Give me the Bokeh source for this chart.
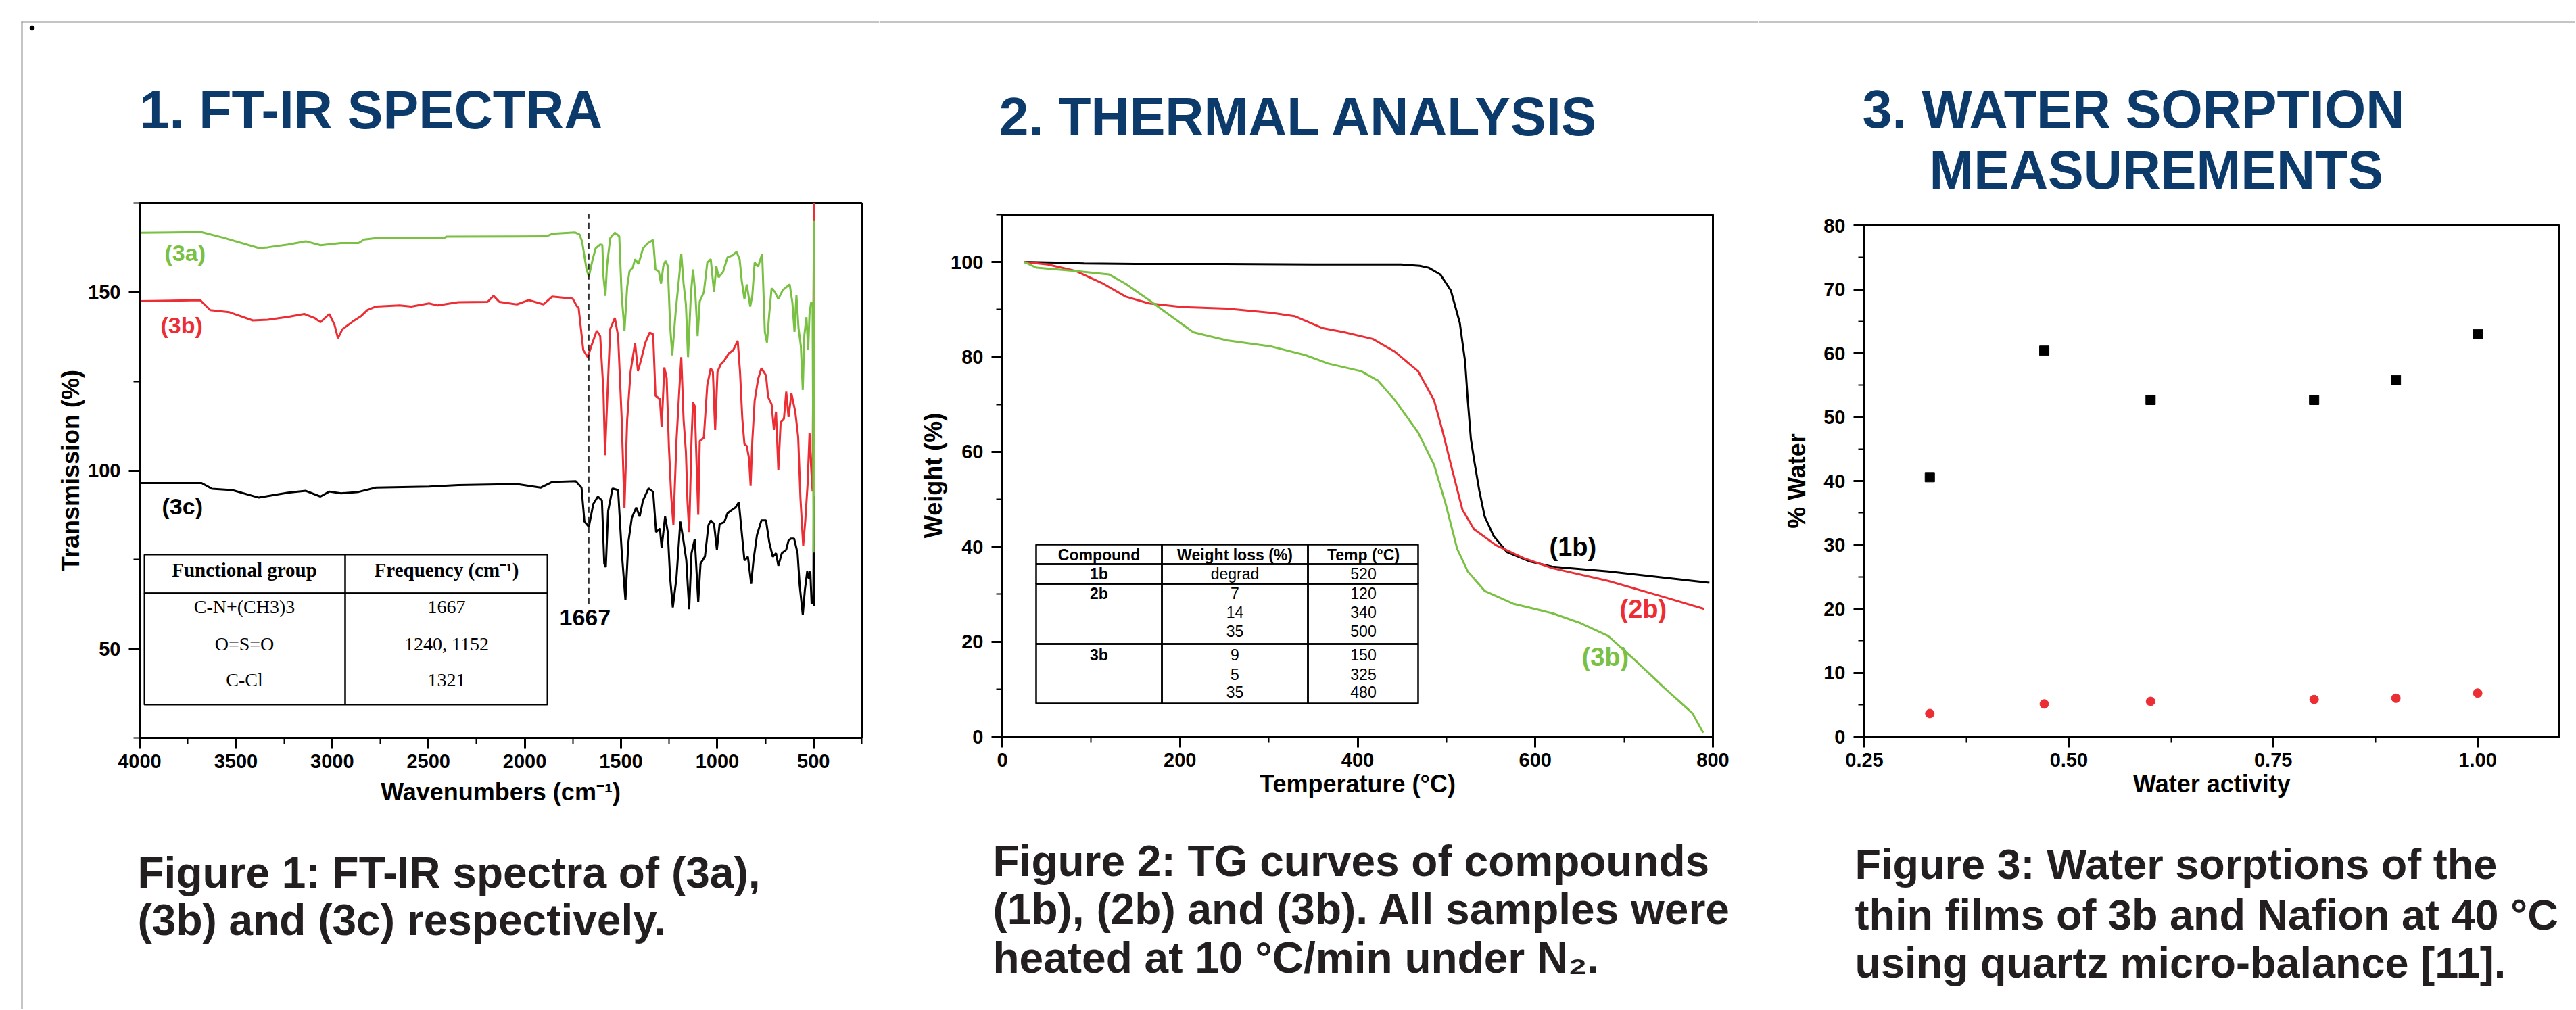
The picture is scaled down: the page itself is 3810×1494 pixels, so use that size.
from bokeh.plotting import figure
from bokeh.models import (Range1d, SingleIntervalTicker, NumeralTickFormatter,
                          Label, BoxAnnotation)
from bokeh.layouts import row, column
from bokeh.embed import file_html
from bokeh.resources import INLINE

SANS = "Liberation Sans"
SERIF = "Liberation Serif"
NAVY = "#0b3a6b"
CAPTION = "#231f20"
GREEN = "#79c043"
RED = "#ec2d33"
GRAY = "#8c8c8c"

# ---------------- data: FT-IR spectra (wavenumber, transmission) ----------------
ir_3a = [(4000,166.7),(3680,166.9),(3565,165.3),(3380,162.4),(3335,162.6),(3230,163.4),(3137,164.3),
         (3060,163.2),(2955,163.8),(2863,163.8),(2833,164.8),(2772,165.2),(2420,165.2),(2406,165.6),
         (1888,165.7),(1857,166.4),(1740,166.8),(1715,166.2),(1702,164.2),(1679,156.4),(1667,154.4),
         (1649,158.8),(1632,162.3),(1608,163.4),(1597,163.3),(1591,154.4),(1581,149.0),(1573,157.4),
         (1556,165.2),(1532,166.7),(1509,165.7),(1497,149.5),(1482,139.2),(1468,151.5),(1456,155.9),
         (1439,156.9),(1427,159.3),(1409,157.9),(1386,162.3),(1362,163.7),(1333,164.7),(1321,156.4),
         (1304,155.9),(1292,152.4),(1280,157.4),(1269,158.8),(1257,157.4),(1245,140.7),(1234,132.3),
         (1216,144.6),(1198,154.4),(1187,160.8),(1175,152.4),(1163,146.6),(1152,131.8),(1137,149.5),
         (1126,156.4),(1114,149.5),(1102,137.7),(1091,147.5),(1070,150.0),(1052,158.3),(1034,159.3),
         (1017,150.1),(1005,157.3),(993,154.2),(970,155.7),(947,159.8),(923,160.3),(900,161.3),
         (884,159.3),(873,153.2),(859,148.1),(847,152.2),(829,146.0),(818,149.1),(806,158.3),
         (788,157.2),(767,160.8),(753,138.9),(742,135.9),(730,144.0),(718,151.1),(701,150.1),
         (683,148.1),(660,150.6),(624,152.2),(610,147.1),(599,138.9),(589,149.1),(578,139.9),
         (566,134.9),(556,122.6),(548,137.9),(537,143.0),(528,133.8),(521,144.0),(513,147.1),
         (505,147.1),(500,77.0),(498,170.0)]

ir_3b = [(4000,147.5),(3686,147.8),(3633,145.0),(3534,144.4),(3412,142.1),(3335,142.3),(3229,143.1),
         (3145,143.9),(3092,142.8),(3061,141.6),(3015,143.9),(2988,140.9),(2970,137.1),(2947,139.6),
         (2893,141.8),(2848,143.4),(2817,145.0),(2772,146.0),(2650,146.3),(2589,146.0),(2497,146.9),
         (2452,146.3),(2345,147.2),(2193,147.3),(2162,149.0),(2132,147.3),(2040,146.6),(1979,147.8),
         (1903,146.6),(1857,148.8),(1751,148.2),(1728,146.0),(1720,145.6),(1696,133.8),(1673,131.8),
         (1655,134.8),(1626,139.2),(1608,137.7),(1591,122.0),(1583,104.3),(1573,118.1),(1556,139.7),
         (1532,142.8),(1515,137.7),(1497,115.1),(1482,89.6),(1468,114.2),(1450,127.9),(1427,135.8),
         (1412,127.9),(1397,130.8),(1374,135.8),(1351,138.7),(1333,138.2),(1321,121.0),(1298,120.0),
         (1289,112.2),(1275,128.9),(1263,125.9),(1251,106.3),(1239,92.5),(1228,84.7),(1212,108.3),
         (1198,122.0),(1187,131.8),(1175,114.2),(1163,105.3),(1155,91.6),(1146,82.7),(1134,108.3),
         (1126,119.1),(1117,118.1),(1099,87.6),(1091,108.3),(1070,109.2),(1052,124.0),(1034,128.7),
         (1023,127.7),(1011,111.4),(999,127.7),(982,129.8),(964,130.8),(941,132.8),(917,133.8),
         (894,136.4),(882,127.7),(870,114.5),(859,107.4),(847,106.9),(835,103.3),(827,95.7),
         (818,108.4),(806,119.6),(788,125.7),(771,128.7),(747,126.7),(736,120.6),(718,118.6),
         (706,111.4),(695,116.5),(683,100.2),(671,113.5),(654,114.5),(642,122.1),(630,115.0),
         (615,121.6),(595,116.5),(580,109.4),(568,92.1),(554,78.9),(543,86.0),(531,96.2),
         (521,110.4),(513,101.3),(505,94.1),(498,175.0)]

ir_3c = [(4000,96.5),(3678,96.5),(3625,94.9),(3518,94.5),(3381,92.4),(3229,93.8),(3137,94.3),
         (3061,92.7),(3015,94.1),(2954,93.6),(2863,94.0),(2772,95.2),(2497,95.5),(2345,95.9),
         (2040,96.2),(1918,95.2),(1857,96.8),(1735,97.0),(1705,95.2),(1690,85.7),(1667,84.2),
         (1644,90.6),(1620,92.7),(1599,91.6),(1587,73.9),(1579,72.9),(1567,88.6),(1544,95.0),
         (1515,94.5),(1497,77.8),(1477,63.6),(1462,79.8),(1444,86.7),(1421,89.6),(1403,87.1),
         (1386,91.6),(1357,95.0),(1333,94.0),(1318,82.7),(1298,83.7),(1289,78.3),(1271,87.1),
         (1257,82.7),(1245,69.9),(1231,61.6),(1212,69.9),(1192,85.7),(1177,80.8),(1161,74.9),
         (1146,61.1),(1134,76.8),(1117,80.8),(1099,63.1),(1087,73.9),(1064,75.9),(1046,84.7),
         (1034,86.0),(1017,85.0),(1002,77.8),(988,85.0),(964,85.5),(947,88.0),(923,89.0),
         (906,89.6),(888,91.1),(870,80.9),(859,74.8),(841,75.8),(824,68.2),(812,74.8),(794,81.9),
         (771,86.0),(747,86.0),(730,79.9),(712,75.8),(695,76.8),(683,73.3),(665,76.8),(642,77.8),
         (630,80.4),(618,80.9),(601,80.9),(583,76.8),(572,67.7),(556,59.5),(545,66.6),(533,71.7),
         (525,69.7),(517,71.7),(510,62.6),(501,64.6),(499,93.0),(498,62.0)]

peak_wn = 1667
fg_header = ["Functional group", "Frequency (cm\u207b\u00b9)"]
fg_groups = ["C-N+(CH3)3", "O=S=O", "C-Cl"]
fg_freqs = ["1667", "1240, 1152", "1321"]

# ---------------- data: TG curves (temperature, weight %) ----------------
t_1b = [25, 60, 92, 150, 250, 350, 449, 470, 480, 493, 505, 515, 521, 524, 527.5, 532, 537, 543,
        553, 568, 594, 619, 682, 745, 796]
w_1b = [100, 99.9, 99.7, 99.6, 99.6, 99.5, 99.5, 99.2, 98.8, 97.4, 94.0, 87.2, 79.0, 70.9, 62.7,
        57.3, 51.8, 46.4, 42.3, 38.9, 36.9, 35.8, 34.8, 33.5, 32.4]
t_2b = [25, 51, 83, 114, 139, 165, 203, 253, 303, 329, 360, 385, 417, 442, 468, 486, 496, 505, 518,
        531, 556, 587, 619, 682, 745, 790]
w_2b = [100, 99.5, 98.1, 95.4, 92.7, 91.3, 90.5, 90.2, 89.3, 88.6, 86.1, 85.2, 83.8, 81.1, 77.0,
        70.9, 64.1, 57.3, 47.8, 43.7, 40.3, 37.6, 35.5, 32.8, 29.4, 26.9]
t_3b = [25, 38.5, 83, 120, 139, 165, 190, 215, 253, 303, 341, 367, 404, 423, 442, 468, 486, 499,
        512, 524, 543, 575, 619, 651, 682, 714, 745, 777, 789]
w_3b = [100, 98.8, 98.1, 97.4, 95.4, 92.0, 88.6, 85.2, 83.5, 82.2, 80.4, 78.6, 77.0, 75.0, 70.9,
        64.1, 57.3, 49.1, 39.6, 34.8, 30.7, 28.0, 26.0, 23.9, 21.2, 15.8, 10.3, 4.9, 0.8]

tg_header = ["Compound", "Weight loss (%)", "Temp (\u00b0C)"]
tg_compounds = ["1b", "2b", "3b"]
tg_loss = [["degrad"], ["7", "14", "35"], ["9", "5", "35"]]
tg_temp = [["520"], ["120", "340", "500"], ["150", "325", "480"]]

# ---------------- data: water sorption ----------------
water_activity = [0.33, 0.47, 0.60, 0.80, 0.90, 1.00]
water_black = [40.6, 60.4, 52.7, 52.7, 55.8, 63.0]
water_red = [3.6, 5.1, 5.5, 5.8, 6.0, 6.8]

# page geometry (page pixel coordinates; the Bokeh page has no body margin)
TOP_Y0 = 0
TOP_SPLIT = [290, 290, 310]    # title band bottom, per column
MID_Y1 = 1220                  # chart band ends here
BOT_Y1 = 1492                  # caption band ends here
COLS = [(60, 1300), (1300, 2600), (2600, 3808)]


# ---------------- helpers ----------------
def no_align(p):
    try:
        p.frame_align = False
    except Exception:
        pass
    return p


def text_fig(x0, x1, y0, y1):
    """A figure whose data coordinates are page pixel coordinates (y downward)."""
    p = figure(width=x1 - x0, height=y1 - y0, x_range=Range1d(x0, x1), y_range=Range1d(y1, y0),
               x_axis_location=None, y_axis_location=None, min_border=0,
               toolbar_location=None, output_backend="svg",
               background_fill_color="white", border_fill_color="white")
    p.outline_line_color = None
    p.xgrid.visible = False
    p.ygrid.visible = False
    return no_align(p)


def label(p, X, Y_base, text, size, color="black", style="bold", font=SANS, align="left"):
    # Y_base is the text baseline; the label is anchored at its vertical middle
    p.add_layout(Label(x=X, y=Y_base - 0.35 * size, text=text, text_font=font,
                       text_font_size=f"{size}px", text_font_style=style, text_color=color,
                       text_align=align, text_baseline="middle"))


def gbox(p, X0, Y0, X1, Y1, fill=GRAY):
    p.add_layout(BoxAnnotation(left=X0, right=X1, top=Y0, bottom=Y1, fill_color=fill,
                               fill_alpha=1.0, line_alpha=0.0, line_width=0))


def chart_fig(col, top, FL, FT, FR, FB, xr, yr):
    x0, x1 = col
    p = figure(width=x1 - x0, height=MID_Y1 - top,
               min_border_left=FL - x0, min_border_right=x1 - FR,
               min_border_top=FT - top, min_border_bottom=MID_Y1 - FB,
               x_range=xr, y_range=yr, output_backend="svg", toolbar_location=None,
               background_fill_color="white", border_fill_color="white")
    p.xgrid.visible = False
    p.ygrid.visible = False
    p.outline_line_color = "black"
    p.outline_line_width = 3
    for ax in (p.xaxis[0], p.yaxis[0]):
        ax.axis_line_width = 3
        ax.major_tick_line_width = 3
        ax.minor_tick_line_width = 2
        ax.major_tick_out = 16
        ax.major_tick_in = 0
        ax.minor_tick_out = 9
        ax.minor_tick_in = 0
        ax.major_label_text_font = SANS
        ax.major_label_text_font_style = "bold"
        ax.major_label_text_font_size = "29px"
        ax.major_label_text_color = "black"
        ax.axis_label_text_font = SANS
        ax.axis_label_text_font_style = "bold"
        ax.axis_label_text_font_size = "36px"
        ax.axis_label_text_color = "black"
    p.yaxis[0].major_label_standoff = 12
    p.xaxis[0].major_label_standoff = 8
    p.yaxis[0].axis_label_standoff = 2
    return no_align(p)


def in_label(p, FL, FB, X, Y, text, size, color="black", style="bold", font=SANS,
             align="left", baseline="middle"):
    p.add_layout(Label(x=X - FL, y=FB - Y, x_units="screen", y_units="screen", text=text,
                       text_font=font, text_font_size=f"{size}px", text_font_style=style,
                       text_color=color, text_align=align, text_baseline=baseline))


def in_box(p, FL, FB, X0, Y0, X1, Y1, lw=2, fill=None):
    p.add_layout(BoxAnnotation(left=X0 - FL, right=X1 - FL, top=FB - Y0, bottom=FB - Y1,
                               left_units="screen", right_units="screen",
                               top_units="screen", bottom_units="screen",
                               fill_color=fill, fill_alpha=1.0 if fill else 0.0,
                               line_color="black", line_width=lw,
                               line_alpha=0.0 if fill else 1.0))


# ================= left strip (poster frame) =================
strip = text_fig(0, 60, 0, BOT_Y1)
gbox(strip, 31, 31, 60, 33)
gbox(strip, 31, 31, 33, BOT_Y1)
strip.scatter([47], [41], size=7, color="black")

# ================= Panel 1: FT-IR =================
t1 = text_fig(COLS[0][0], COLS[0][1], TOP_Y0, TOP_SPLIT[0])
gbox(t1, COLS[0][0], 31, COLS[0][1], 33)
label(t1, 206, 190, "1. FT-IR SPECTRA", 79, color=NAVY)

FL1, FT1, FR1, FB1 = 206, 300, 1274, 1091
c1 = chart_fig(COLS[0], TOP_SPLIT[0], FL1, FT1, FR1, FB1, Range1d(4000, 250), Range1d(25, 175))
c1.xaxis[0].ticker = SingleIntervalTicker(interval=500, num_minor_ticks=2)
c1.yaxis[0].ticker = SingleIntervalTicker(interval=50, num_minor_ticks=2)
c1.xaxis[0].axis_label = "Wavenumbers (cm\u207b\u00b9)"
c1.yaxis[0].axis_label = "Transmission (%)"
c1.xaxis[0].axis_label_standoff = 12
for series, col in ((ir_3c, "black"), (ir_3b, RED), (ir_3a, GREEN)):
    c1.line([a for a, b in series], [b for a, b in series], line_color=col, line_width=3)
c1.segment(x0=[peak_wn], y0=[62.5], x1=[peak_wn], y1=[172], line_color="black",
           line_width=1.5, line_dash="9 6")
in_label(c1, FL1, FB1, 243, 373, "(3a)", 34, color=GREEN)
in_label(c1, FL1, FB1, 237, 480, "(3b)", 34, color=RED)
in_label(c1, FL1, FB1, 239, 748, "(3c)", 34, color="black")
in_label(c1, FL1, FB1, 827, 913, "1667", 34)
in_box(c1, FL1, FB1, 213, 820, 510, 877)
in_box(c1, FL1, FB1, 510, 820, 809, 877)
in_box(c1, FL1, FB1, 213, 877, 510, 1042)
in_box(c1, FL1, FB1, 510, 877, 809, 1042)
in_box(c1, FL1, FB1, 213, 876, 809, 878.5, fill="black")
in_label(c1, FL1, FB1, 361, 842, fg_header[0], 29, font=SERIF, align="center")
in_label(c1, FL1, FB1, 660, 842, fg_header[1], 29, font=SERIF, align="center")
for i, yy in enumerate([897, 952, 1005]):
    in_label(c1, FL1, FB1, 361, yy, fg_groups[i], 28, font=SERIF, style="normal", align="center")
    in_label(c1, FL1, FB1, 660, yy, fg_freqs[i], 28, font=SERIF, style="normal", align="center")

b1 = text_fig(COLS[0][0], COLS[0][1], MID_Y1, BOT_Y1)
label(b1, 203, 1313, "Figure 1: FT-IR spectra of (3a),", 64, color=CAPTION)
label(b1, 203, 1383, "(3b) and (3c) respectively.", 64, color=CAPTION)

# ================= Panel 2: TG =================
t2 = text_fig(COLS[1][0], COLS[1][1], TOP_Y0, TOP_SPLIT[1])
gbox(t2, COLS[1][0], 31, COLS[1][1], 33)
label(t2, 1477, 200, "2. THERMAL ANALYSIS", 79, color=NAVY)

FL2, FT2, FR2, FB2 = 1482, 317, 2533, 1089
c2 = chart_fig(COLS[1], TOP_SPLIT[1], FL2, FT2, FR2, FB2, Range1d(0, 800), Range1d(0, 110))
c2.xaxis[0].ticker = SingleIntervalTicker(interval=200, num_minor_ticks=2)
c2.yaxis[0].ticker = SingleIntervalTicker(interval=20, num_minor_ticks=2)
c2.xaxis[0].axis_label = "Temperature (\u00b0C)"
c2.yaxis[0].axis_label = "Weight (%)"
c2.xaxis[0].axis_label_standoff = 2
c2.line(t_1b, w_1b, line_color="black", line_width=3)
c2.line(t_2b, w_2b, line_color=RED, line_width=3)
c2.line(t_3b, w_3b, line_color=GREEN, line_width=3)
in_label(c2, FL2, FB2, 2291, 808, "(1b)", 38, color="black")
in_label(c2, FL2, FB2, 2395, 900, "(2b)", 38, color=RED)
in_label(c2, FL2, FB2, 2339, 971, "(3b)", 38, color=GREEN)
tcols = [1532, 1718, 1934, 2097]
trows = [805, 834, 863, 952, 1040]
for r in range(4):
    for c in range(3):
        in_box(c2, FL2, FB2, tcols[c], trows[r], tcols[c + 1], trows[r + 1], lw=2.5)
centers = [1625, 1826, 2016]
for c in range(3):
    in_label(c2, FL2, FB2, centers[c], 820, tg_header[c], 23, align="center")
row_lines = [[848], [877, 905, 933], [968, 997, 1023]]
for k in range(3):
    in_label(c2, FL2, FB2, centers[0], row_lines[k][0], tg_compounds[k], 23, align="center")
    for j, yy in enumerate(row_lines[k]):
        in_label(c2, FL2, FB2, centers[1], yy, tg_loss[k][j], 23, style="normal", align="center")
        in_label(c2, FL2, FB2, centers[2], yy, tg_temp[k][j], 23, style="normal", align="center")

b2 = text_fig(COLS[1][0], COLS[1][1], MID_Y1, BOT_Y1)
label(b2, 1468, 1296, "Figure 2: TG curves of compounds", 64, color=CAPTION)
label(b2, 1468, 1367, "(1b), (2b) and (3b). All samples were", 64, color=CAPTION)
label(b2, 1468, 1439, "heated at 10 \u00b0C/min under N\u2082.", 64, color=CAPTION)

# ================= Panel 3: water sorption =================
t3 = text_fig(COLS[2][0], COLS[2][1], TOP_Y0, TOP_SPLIT[2])
gbox(t3, COLS[2][0], 31, COLS[2][1], 33)
label(t3, 2754, 189, "3. WATER SORPTION", 79, color=NAVY)
label(t3, 2853, 279, "MEASUREMENTS", 79, color=NAVY)

FL3, FT3, FR3, FB3 = 2757, 333, 3785, 1089
c3 = chart_fig(COLS[2], TOP_SPLIT[2], FL3, FT3, FR3, FB3, Range1d(0.25, 1.10), Range1d(0, 80))
c3.xaxis[0].ticker = SingleIntervalTicker(interval=0.25, num_minor_ticks=2)
c3.yaxis[0].ticker = SingleIntervalTicker(interval=10, num_minor_ticks=2)
c3.xaxis[0].formatter = NumeralTickFormatter(format="0.00")
c3.xaxis[0].axis_label = "Water activity"
c3.yaxis[0].axis_label = "% Water"
c3.xaxis[0].axis_label_standoff = 2
c3.yaxis[0].axis_label_standoff = 16
c3.scatter(water_activity, water_black, marker="square", size=14, color="black")
c3.scatter(water_activity, water_red, marker="circle", size=13, color=RED)

b3 = text_fig(COLS[2][0], COLS[2][1], MID_Y1, BOT_Y1)
label(b3, 2743, 1300, "Figure 3: Water sorptions of the", 63, color=CAPTION)
label(b3, 2743, 1375, "thin films of 3b and Nafion at 40 \u00b0C", 63, color=CAPTION)
label(b3, 2743, 1446, "using quartz micro-balance [11].", 63, color=CAPTION)

layout = row(strip, column(t1, c1, b1), column(t2, c2, b2), column(t3, c3, b3))
open("out.html", "w").write(file_html(layout, INLINE))
